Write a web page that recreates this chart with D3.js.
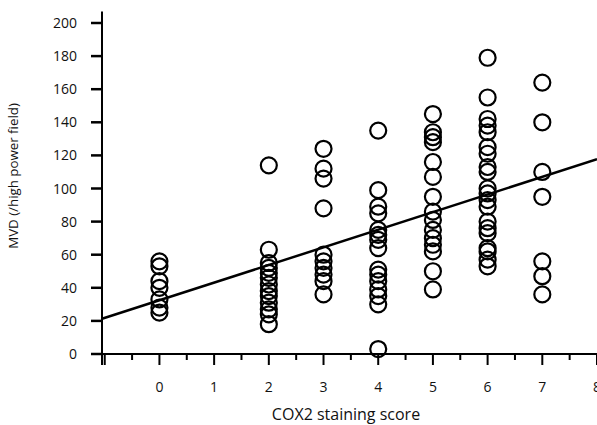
<!DOCTYPE html>
<html>
<head>
<meta charset="utf-8">
<script src="https://cdn.jsdelivr.net/npm/d3@7"></script>
<style>
  body { margin: 0; background: #fff; }
  text { font-family: "Open Sans", "DejaVu Sans", sans-serif; fill: #111; }
</style>
</head>
<body>
<svg id="chart" width="597" height="425"></svg>
<script>
// COX2 score columns and MVD values
const scores = [0, 2, 3, 4, 5, 6, 7];
const mvd0 = [56, 53, 44, 40, 33, 28, 25];
const mvd2 = [114, 63, 55, 52, 49, 46, 42, 38, 35, 31, 27, 24, 18];
const mvd3 = [124, 112, 106, 88, 60, 56, 52, 48, 44, 36];
const mvd4 = [135, 99, 89, 85, 75, 72, 69, 64, 51, 48, 44, 39, 35, 30, 3];
const mvd5 = [145, 134, 131, 128, 116, 107, 95, 86, 81, 75, 70, 66, 62, 50, 39];
const mvd6 = [179, 155, 142, 138, 134, 125, 121, 113, 110, 100, 97, 93, 89, 80, 76, 73, 64, 62, 57, 53];
const mvd7 = [164, 140, 110, 95, 56, 47, 36];
const columns = [mvd0, mvd2, mvd3, mvd4, mvd5, mvd6, mvd7];

// regression line end points
const fitX = [-1.05, 8];
const fitY = [21.3, 117.7];

const xTicks = [0, 1, 2, 3, 4, 5, 6, 7, 8];
const yTicks = [0, 20, 40, 60, 80, 100, 120, 140, 160, 180, 200];

const points = [];
columns.forEach((col, i) => col.forEach(v => points.push({ x: scores[i], y: v })));

const svg = d3.select("#chart");

const x = d3.scaleLinear().domain([-1.05, 8]).range([102, 597]);
const y = d3.scaleLinear().domain([0, 200]).range([354, 23]);

// ---------- AXES ----------
svg.append("line")
  .attr("x1", x(-1.05)).attr("x2", 597)
  .attr("y1", y(0)).attr("y2", y(0))
  .attr("stroke", "#000").attr("stroke-width", 2);

svg.append("line")
  .attr("x1", x(-1.05)).attr("x2", x(-1.05))
  .attr("y1", y(0) + 11).attr("y2", y(207))
  .attr("stroke", "#000").attr("stroke-width", 2);

// x ticks: major at integers, minor at halves
svg.append("g")
  .selectAll("line")
  .data(d3.range(-1, 8.01, 0.5))
  .join("line")
  .attr("x1", d => x(d)).attr("x2", d => x(d))
  .attr("y1", y(0))
  .attr("y2", d => Number.isInteger(d) ? y(0) + 11 : y(0) + 6)
  .attr("stroke", "#000").attr("stroke-width", 2);

svg.append("g")
  .selectAll("text")
  .data(xTicks)
  .join("text")
  .attr("x", d => x(d))
  .attr("y", 392)
  .attr("text-anchor", "middle")
  .style("font-size", "14px")
  .text(d => d);

// y ticks
svg.append("g")
  .selectAll("line")
  .data(yTicks)
  .join("line")
  .attr("x1", x(-1.05) - 11).attr("x2", x(-1.05))
  .attr("y1", d => y(d)).attr("y2", d => y(d))
  .attr("stroke", "#000").attr("stroke-width", 2.5);

svg.append("g")
  .selectAll("text")
  .data(yTicks)
  .join("text")
  .attr("x", 77)
  .attr("y", d => y(d) + 5)
  .attr("text-anchor", "end")
  .style("font-size", "14px")
  .text(d => d);

// ---------- TITLES ----------
svg.append("text")
  .attr("transform", "translate(18, 176) rotate(-90)")
  .attr("text-anchor", "middle")
  .style("font-size", "13.3px")
  .text("MVD (/high power field)");

svg.append("text")
  .attr("x", 346)
  .attr("y", 420)
  .attr("text-anchor", "middle")
  .style("font-size", "16px")
  .text("COX2 staining score");

// ---------- FIT LINE ----------
svg.append("line")
  .attr("x1", x(fitX[0])).attr("y1", y(fitY[0]))
  .attr("x2", x(fitX[1])).attr("y2", y(fitY[1]))
  .attr("stroke", "#000").attr("stroke-width", 2.5);

// ---------- POINTS ----------
svg.append("g")
  .selectAll("circle")
  .data(points)
  .join("circle")
  .attr("cx", d => x(d.x))
  .attr("cy", d => y(d.y))
  .attr("r", 8)
  .attr("fill", "none")
  .attr("stroke", "#000")
  .attr("stroke-width", 2.2);
</script>
</body>
</html>
